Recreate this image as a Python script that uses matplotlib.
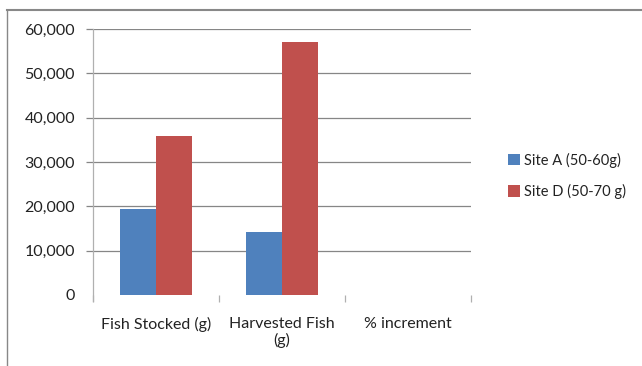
import matplotlib
matplotlib.use("Agg")
import matplotlib.pyplot as plt
import numpy as np
from matplotlib.lines import Line2D
from matplotlib.ticker import FuncFormatter

categories = ["Fish Stocked (g)", "Harvested Fish\n(g)", "% increment"]
series_names = ["Site A (50-60g)", "Site D (50-70 g)"]
site_a = [19300, 14300, 0]
site_d = [35900, 57000, 0]
colors = ["#4F81BD", "#C0504D"]

plt.rcParams['font.family'] = ['Lato', 'DejaVu Sans']

fig = plt.figure(figsize=(6.42, 3.66), dpi=100)
ax = fig.add_axes([93/642, 1-295/366, (471-93)/642, (295-29)/366])

x = np.arange(len(categories))
w = 0.2875
ax.bar(x - w/2, site_a, width=w, color=colors[0], label=series_names[0], zorder=3)
ax.bar(x + w/2, site_d, width=w, color=colors[1], label=series_names[1], zorder=3)

ax.set_xlim(-0.5, len(categories) - 0.5)
ax.set_ylim(0, 60000)
ax.set_yticks(np.arange(0, 60001, 10000))
ax.yaxis.set_major_formatter(FuncFormatter(lambda v, p: f"{int(v):,}"))
ax.grid(axis='y', color='#868686', linewidth=0.9, zorder=0)
ax.yaxis.get_major_ticks()[0].gridline.set_visible(False)
ax.yaxis.get_major_ticks()[0].tick1line.set_visible(False)
ax.tick_params(axis='y', length=5, width=0.9, color='#868686', labelsize=11.5, pad=8, labelcolor='#222222')
ax.set_xticks(x)
ax.set_xticklabels(categories, fontsize=11.5, color='#222222', linespacing=1.15)
ax.set_xticks(np.arange(-0.5, len(categories)), minor=True)
ax.tick_params(axis='x', which='major', length=0, pad=16)
ax.tick_params(axis='x', which='minor', length=5, width=0.9, color='#b0b0b0', direction='out')
for s in ['top', 'right', 'bottom']:
    ax.spines[s].set_visible(False)
ax.spines['left'].set_color('#b0b0b0')
ax.spines['left'].set_linewidth(0.9)
ax.spines['left'].set_bounds(-1400, 60000)

ax.legend(loc='center left', bbox_to_anchor=(495/642, 190/366), bbox_transform=fig.transFigure,
          frameon=False, fontsize=10.5, handlelength=0.8, handleheight=0.8, handletextpad=0.3,
          labelspacing=1.1, labelcolor='#222222')

fig.add_artist(Line2D([7/642, 1], [1-10/366, 1-10/366], transform=fig.transFigure, color='#888888', linewidth=1.5))
fig.add_artist(Line2D([7/642, 7/642], [0, 1-10/366], transform=fig.transFigure, color='#888888', linewidth=1.0))

fig.savefig("out.png", dpi=100)
